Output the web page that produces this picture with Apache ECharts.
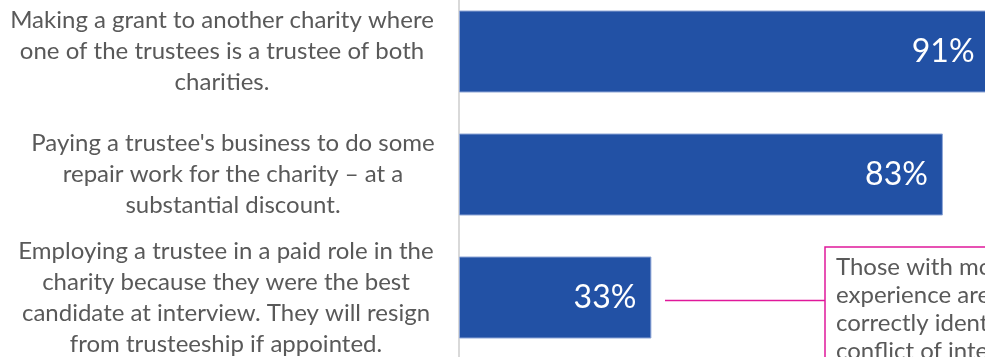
<!DOCTYPE html>
<html>
<head>
<meta charset="utf-8">
<script src="https://cdn.jsdelivr.net/npm/echarts@6/dist/echarts.min.js"></script>
<style>
  html, body { margin: 0; padding: 0; background: #ffffff; }
  #chart { width: 985px; height: 357px; }
</style>
</head>
<body>
<div id="chart"></div>
<script>
// Scenarios shown on the category axis (top to bottom)
const scenarios = [
  "Making a grant to another charity where\none of the trustees is a trustee of both\ncharities.",
  "Paying a trustee's business to do some\nrepair work for the charity \u2013 at a\nsubstantial discount.",
  "Employing a trustee in a paid role in the\ncharity because they were the best\ncandidate at interview. They will resign\nfrom trusteeship if appointed."
];

// Share of respondents identifying a conflict of interest (%)
const shares = [91, 83, 33];

// Callout attached to the lowest bar
const calloutLines = [
  "Those with more trustee",
  "experience are more likely to",
  "correctly identify this as a",
  "conflict of interest."
];

// Small horizontal nudges so each label block sits like the original layout
const labelStyles = ["a", "b", "c"];

const FONT = "Lato, 'Open Sans', sans-serif";
const chart = echarts.init(document.getElementById('chart'), null, { renderer: 'canvas' });

chart.setOption({
  animation: false,
  backgroundColor: '#ffffff',
  grid: { left: 459, top: -10, width: 583, height: 369, outerBoundsMode: 'none' },
  xAxis: {
    type: 'value', min: 0, max: 100,
    show: false
  },
  yAxis: {
    type: 'category',
    inverse: true,
    data: scenarios,
    axisLine: { show: true, lineStyle: { color: '#d9d9d9', width: 2 } },
    axisTick: { show: false },
    splitLine: { show: false },
    axisLabel: {
      margin: 237,
      align: 'center',
      verticalAlign: 'middle',
      formatter: function (value, idx) {
        const tag = labelStyles[idx] || 'a';
        return value.split('\n').map(function (l) { return '{' + tag + '|' + l + '}'; }).join('\n');
      },
      rich: {
        a: { fontFamily: FONT, fontSize: 24, color: '#595959', lineHeight: 31 },
        b: { fontFamily: FONT, fontSize: 24, color: '#595959', lineHeight: 31, padding: [0, 0, 0, 22] },
        c: { fontFamily: FONT, fontSize: 24, color: '#595959', lineHeight: 31, padding: [0, 0, 0, 8] }
      }
    }
  },
  series: [{
    type: 'bar',
    data: shares,
    barWidth: 82,
    itemStyle: { color: '#2251a5', borderColor: '#8ea6d6', borderWidth: 1 },
    label: {
      show: true,
      position: 'insideRight',
      distance: 15,
      formatter: '{c}%',
      color: '#ffffff',
      fontFamily: FONT,
      fontSize: 32
    }
  }]
});

// Callout: connector from the lowest bar's label to a bordered text box
const rowY = chart.convertToPixel({ yAxisIndex: 0 }, scenarios[2]);
chart.setOption({
  graphic: [
    {
      type: 'line',
      shape: { x1: 665, y1: rowY + 3, x2: 825, y2: rowY + 3 },
      style: { stroke: '#e0189a', lineWidth: 1.5 }
    },
    {
      type: 'rect',
      shape: { x: 825, y: 247, width: 260, height: 140 },
      style: { fill: '#ffffff', stroke: '#e0189a', lineWidth: 1.5 }
    },
    {
      type: 'text',
      x: 836,
      y: 253,
      style: {
        text: calloutLines.join('\n'),
        fontFamily: FONT,
        fontSize: 24,
        lineHeight: 28,
        fill: '#595959',
        align: 'left',
        verticalAlign: 'top'
      }
    }
  ]
});
</script>
</body>
</html>
